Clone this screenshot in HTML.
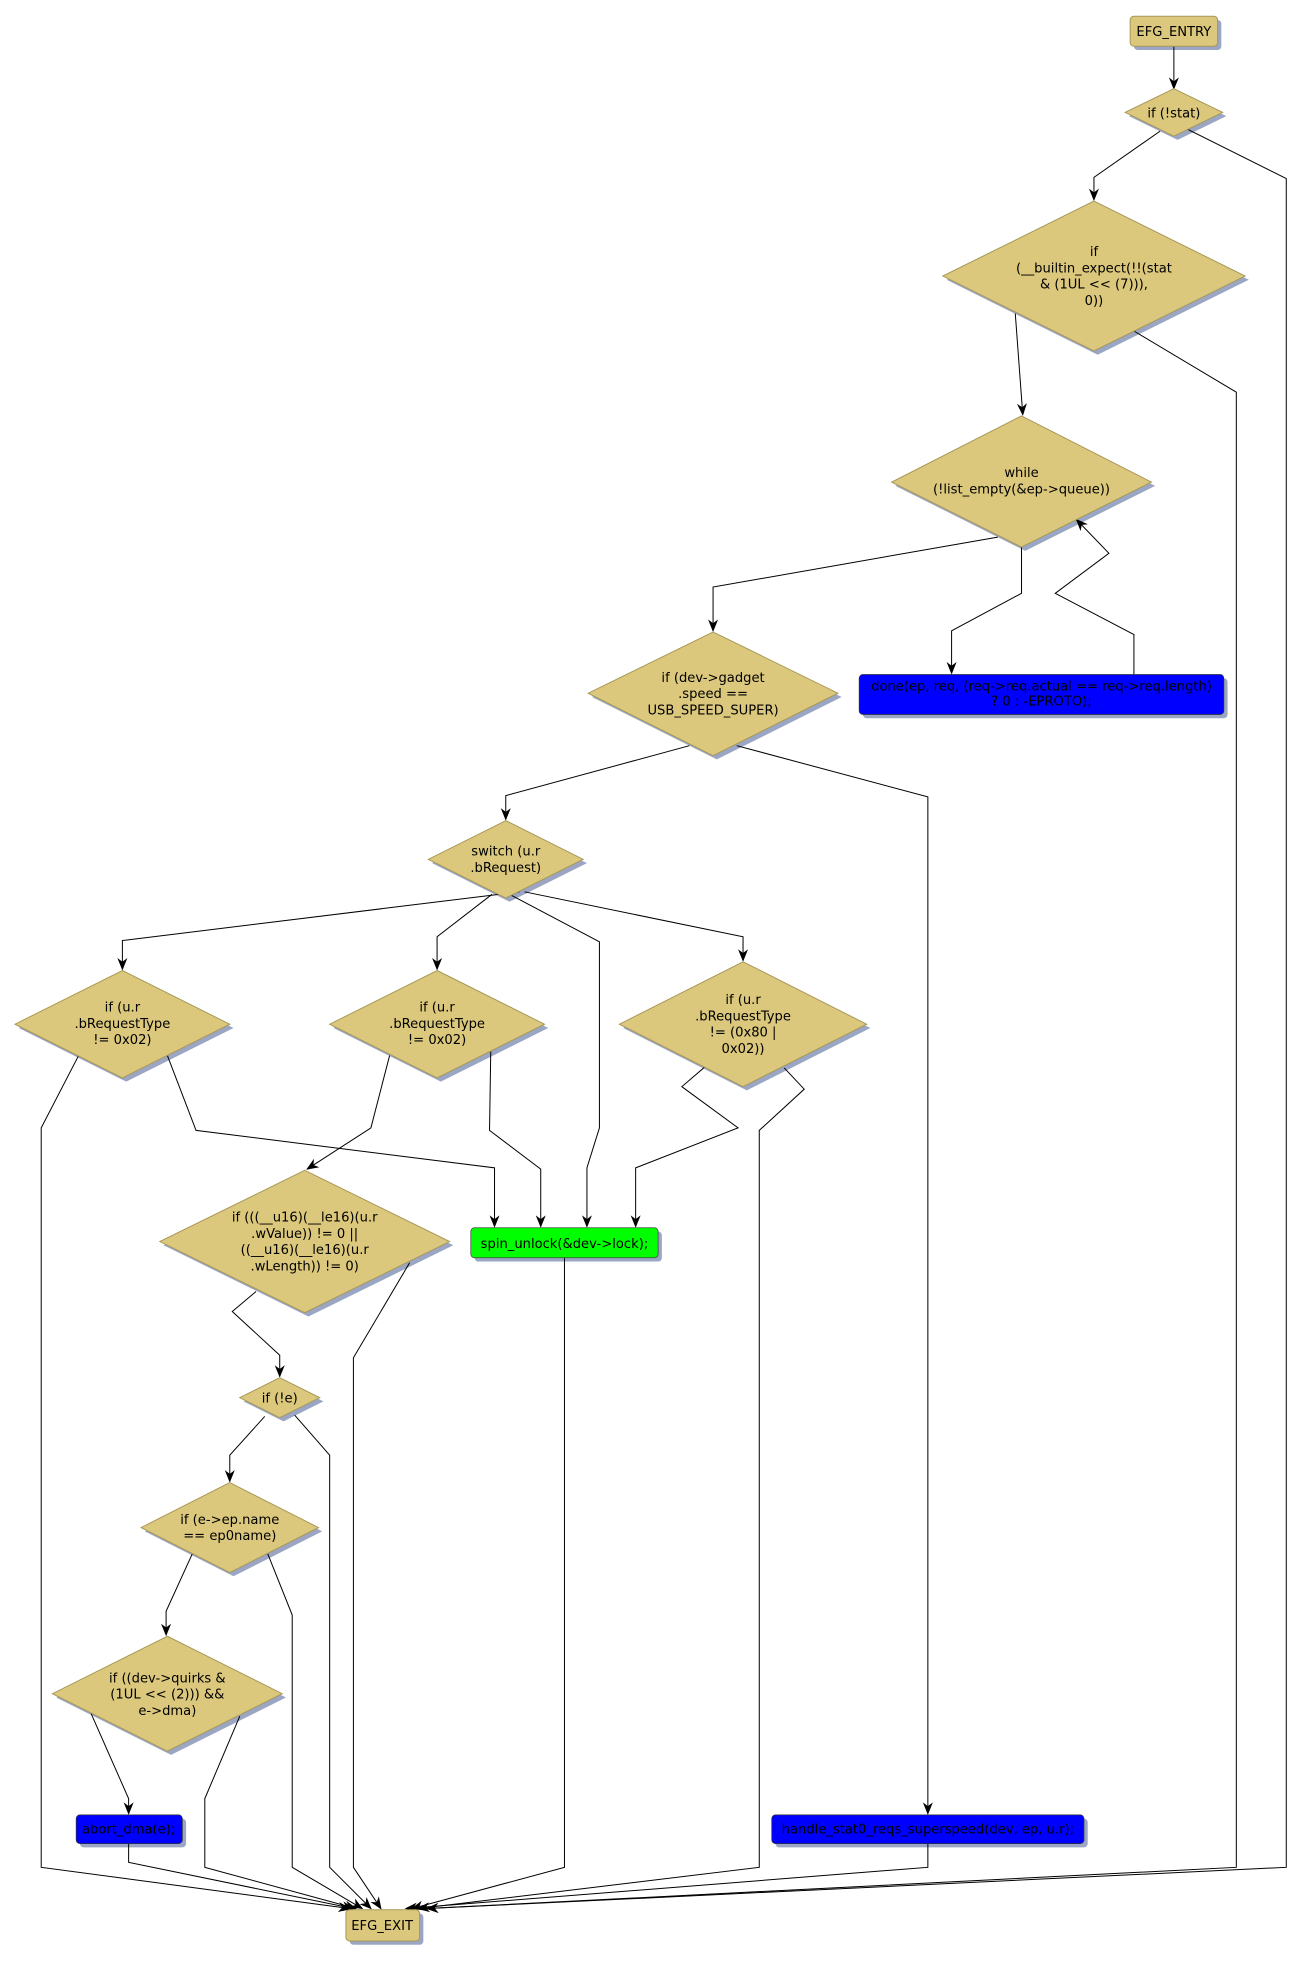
<!DOCTYPE html>
<html><head><meta charset="utf-8"><style>
html,body{margin:0;padding:0;background:#fff;}
svg{display:block;}
text{font-family:"DejaVu Sans","Liberation Sans",sans-serif;font-size:10.5px;fill:#000;text-anchor:middle;}
.d{fill:#dbc87c;stroke:#a89858;stroke-width:0.8;}
.s{fill:#9aa6c4;}
.e{fill:none;stroke:#000;stroke-width:0.8;}
</style></head><body>
<svg width="1305" height="1961" viewBox="0 0 1045 1570" preserveAspectRatio="none" xmlns="http://www.w3.org/2000/svg">
<defs><marker id="a" markerWidth="10" markerHeight="10" refX="9" refY="5" orient="auto" markerUnits="userSpaceOnUse"><path d="M0,1 L10,5 L0,9 L3,5 z" fill="#000"/></marker></defs>

<!-- shadows -->
<g class="s">
<rect x="908" y="16" width="70" height="24" rx="3"/>
<polygon points="943,74 982,93 943,112 904,93"/>
<polygon points="879,164 1000,224 879,284 758,224"/>
<polygon points="821,336 925,389 821,441 717,389"/>
<rect x="691" y="543" width="292" height="32" rx="3"/>
<polygon points="574,509 674,558 574,608 474,558"/>
<polygon points="408,660 470,691 408,722 346,691"/>
<polygon points="101,780 187,823 101,866 15,823"/>
<polygon points="353,780 439,823 353,866 267,823"/>
<polygon points="598,773 697,823 598,873 499,823"/>
<rect x="380" y="986" width="150" height="24" rx="3"/>
<polygon points="247,940 363,997 247,1054 131,997"/>
<polygon points="227,1106 259,1122 227,1138 195,1122"/>
<polygon points="187,1190 258,1226 187,1262 116,1226"/>
<polygon points="137,1313 229,1359 137,1405 45,1359"/>
<rect x="64" y="1456" width="85" height="23" rx="3"/>
<rect x="621" y="1456" width="250" height="23" rx="3"/>
<rect x="280" y="1532" width="59" height="25" rx="3"/>
</g>

<!-- edges -->
<g class="e">
<polyline points="940,37 940,71" marker-end="url(#a)"/>
<polyline points="929,105 876,142 876,160" marker-end="url(#a)"/>
<polyline points="948,102 1030,143 1030,1495 342,1528" marker-end="url(#a)"/>
<polyline points="813,251 819,332" marker-end="url(#a)"/>
<polyline points="908,265 990,314 990,1495 342,1528" marker-end="url(#a)"/>
<polyline points="799,430 571,470 571,505" marker-end="url(#a)"/>
<polyline points="818,438 818,475 762,505 762,539" marker-end="url(#a)"/>
<polyline points="908,540 908,508 845,475 888,443 862,416" marker-end="url(#a)"/>
<polyline points="552,597 405,637 405,656" marker-end="url(#a)"/>
<polyline points="590,597 743,638 743,1452" marker-end="url(#a)"/>
<polyline points="391,714 73,753 73,776" transform="translate(25,0)" marker-end="url(#a)"/>
<polyline points="394,716 350,750 350,776" marker-end="url(#a)"/>
<polyline points="408,716 480,754 480,903 470,935 470,982" marker-end="url(#a)"/>
<polyline points="420,714 595,750 595,769" marker-end="url(#a)"/>
<polyline points="63,845 33,903 33,1495 280,1528" marker-end="url(#a)"/>
<polyline points="134,845 157,905 396,935 396,982" marker-end="url(#a)"/>
<polyline points="312,845 297,903 246,936" marker-end="url(#a)"/>
<polyline points="393,840 392,905 433,936 433,982" marker-end="url(#a)"/>
<polyline points="567,852 546,870 591,903 509,935 509,982" marker-end="url(#a)"/>
<polyline points="628,855 644,872 608,905 608,1495 335,1528" marker-end="url(#a)"/>
<polyline points="205,1034 186,1050 224,1085 224,1102" marker-end="url(#a)"/>
<polyline points="328,1011 283,1087 283,1495 305,1528" marker-end="url(#a)"/>
<polyline points="452,1007 452,1495 330,1528" marker-end="url(#a)"/>
<polyline points="212,1134 184,1165 184,1186" marker-end="url(#a)"/>
<polyline points="236,1133 264,1165 264,1495 297,1528" marker-end="url(#a)"/>
<polyline points="154,1244 133,1290 133,1309" marker-end="url(#a)"/>
<polyline points="214,1243 234,1293 234,1495 290,1528" marker-end="url(#a)"/>
<polyline points="73,1372 103,1440 103,1452" marker-end="url(#a)"/>
<polyline points="192,1374 164,1440 164,1495 285,1528" marker-end="url(#a)"/>
<polyline points="103,1476 103,1491 283,1528" marker-end="url(#a)"/>
<polyline points="743,1476 743,1495 325,1528" marker-end="url(#a)"/>
</g>

<!-- nodes -->
<rect class="d" x="905" y="13" width="70" height="24" rx="3"/>
<text x="940" y="29">EFG_ENTRY</text>

<polygon class="d" points="940,71 979,90 940,109 901,90"/>
<text x="940" y="94">if (!stat)</text>

<polygon class="d" points="876,161 997,221 876,281 755,221"/>
<text x="876" y="205">if</text>
<text x="876" y="218">(__builtin_expect(!!(stat</text>
<text x="876" y="231">&amp; (1UL &lt;&lt; (7))),</text>
<text x="876" y="244">0))</text>

<polygon class="d" points="818,333 922,386 818,438 714,386"/>
<text x="818" y="382">while</text>
<text x="818" y="395">(!list_empty(&amp;ep-&gt;queue))</text>

<rect x="688" y="540" width="292" height="32" rx="3" fill="#0000ff" stroke="#333" stroke-width="0.6"/>
<text x="834" y="553">done(ep, req, (req-&gt;req.actual == req-&gt;req.length)</text>
<text x="834" y="565">? 0 : -EPROTO);</text>

<polygon class="d" points="571,506 671,555 571,605 471,555"/>
<text x="571" y="546">if (dev-&gt;gadget</text>
<text x="571" y="559">.speed ==</text>
<text x="571" y="572">USB_SPEED_SUPER)</text>

<polygon class="d" points="405,657 467,688 405,719 343,688"/>
<text x="405" y="685">switch (u.r</text>
<text x="405" y="698">.bRequest)</text>

<polygon class="d" points="98,777 184,820 98,863 12,820"/>
<text x="98" y="810">if (u.r</text>
<text x="98" y="823">.bRequestType</text>
<text x="98" y="836">!= 0x02)</text>

<polygon class="d" points="350,777 436,820 350,863 264,820"/>
<text x="350" y="810">if (u.r</text>
<text x="350" y="823">.bRequestType</text>
<text x="350" y="836">!= 0x02)</text>

<polygon class="d" points="595,770 694,820 595,870 496,820"/>
<text x="595" y="804">if (u.r</text>
<text x="595" y="817">.bRequestType</text>
<text x="595" y="830">!= (0x80 |</text>
<text x="595" y="843">0x02))</text>

<rect x="377" y="983" width="150" height="24" rx="3" fill="#00ff00" stroke="#444" stroke-width="0.6"/>
<text x="452" y="999">spin_unlock(&amp;dev-&gt;lock);</text>

<polygon class="d" points="244,937 360,994 244,1051 128,994"/>
<text x="244" y="978">if (((__u16)(__le16)(u.r</text>
<text x="244" y="991">.wValue)) != 0 ||</text>
<text x="244" y="1004">((__u16)(__le16)(u.r</text>
<text x="244" y="1017">.wLength)) != 0)</text>

<polygon class="d" points="224,1103 256,1119 224,1135 192,1119"/>
<text x="224" y="1123">if (!e)</text>

<polygon class="d" points="184,1187 255,1223 184,1259 113,1223"/>
<text x="184" y="1220">if (e-&gt;ep.name</text>
<text x="184" y="1233">== ep0name)</text>

<polygon class="d" points="134,1310 226,1356 134,1402 42,1356"/>
<text x="134" y="1347">if ((dev-&gt;quirks &amp;</text>
<text x="134" y="1360">(1UL &lt;&lt; (2))) &amp;&amp;</text>
<text x="134" y="1373">e-&gt;dma)</text>

<rect x="61" y="1453" width="85" height="23" rx="3" fill="#0000ff" stroke="#333" stroke-width="0.6"/>
<text x="103" y="1468">abort_dma(e);</text>

<rect x="618" y="1453" width="250" height="23" rx="3" fill="#0000ff" stroke="#333" stroke-width="0.6"/>
<text x="743" y="1468">handle_stat0_reqs_superspeed(dev, ep, u.r);</text>

<rect class="d" x="277" y="1529" width="59" height="25" rx="3"/>
<text x="306" y="1545">EFG_EXIT</text>
</svg>
</body></html>
